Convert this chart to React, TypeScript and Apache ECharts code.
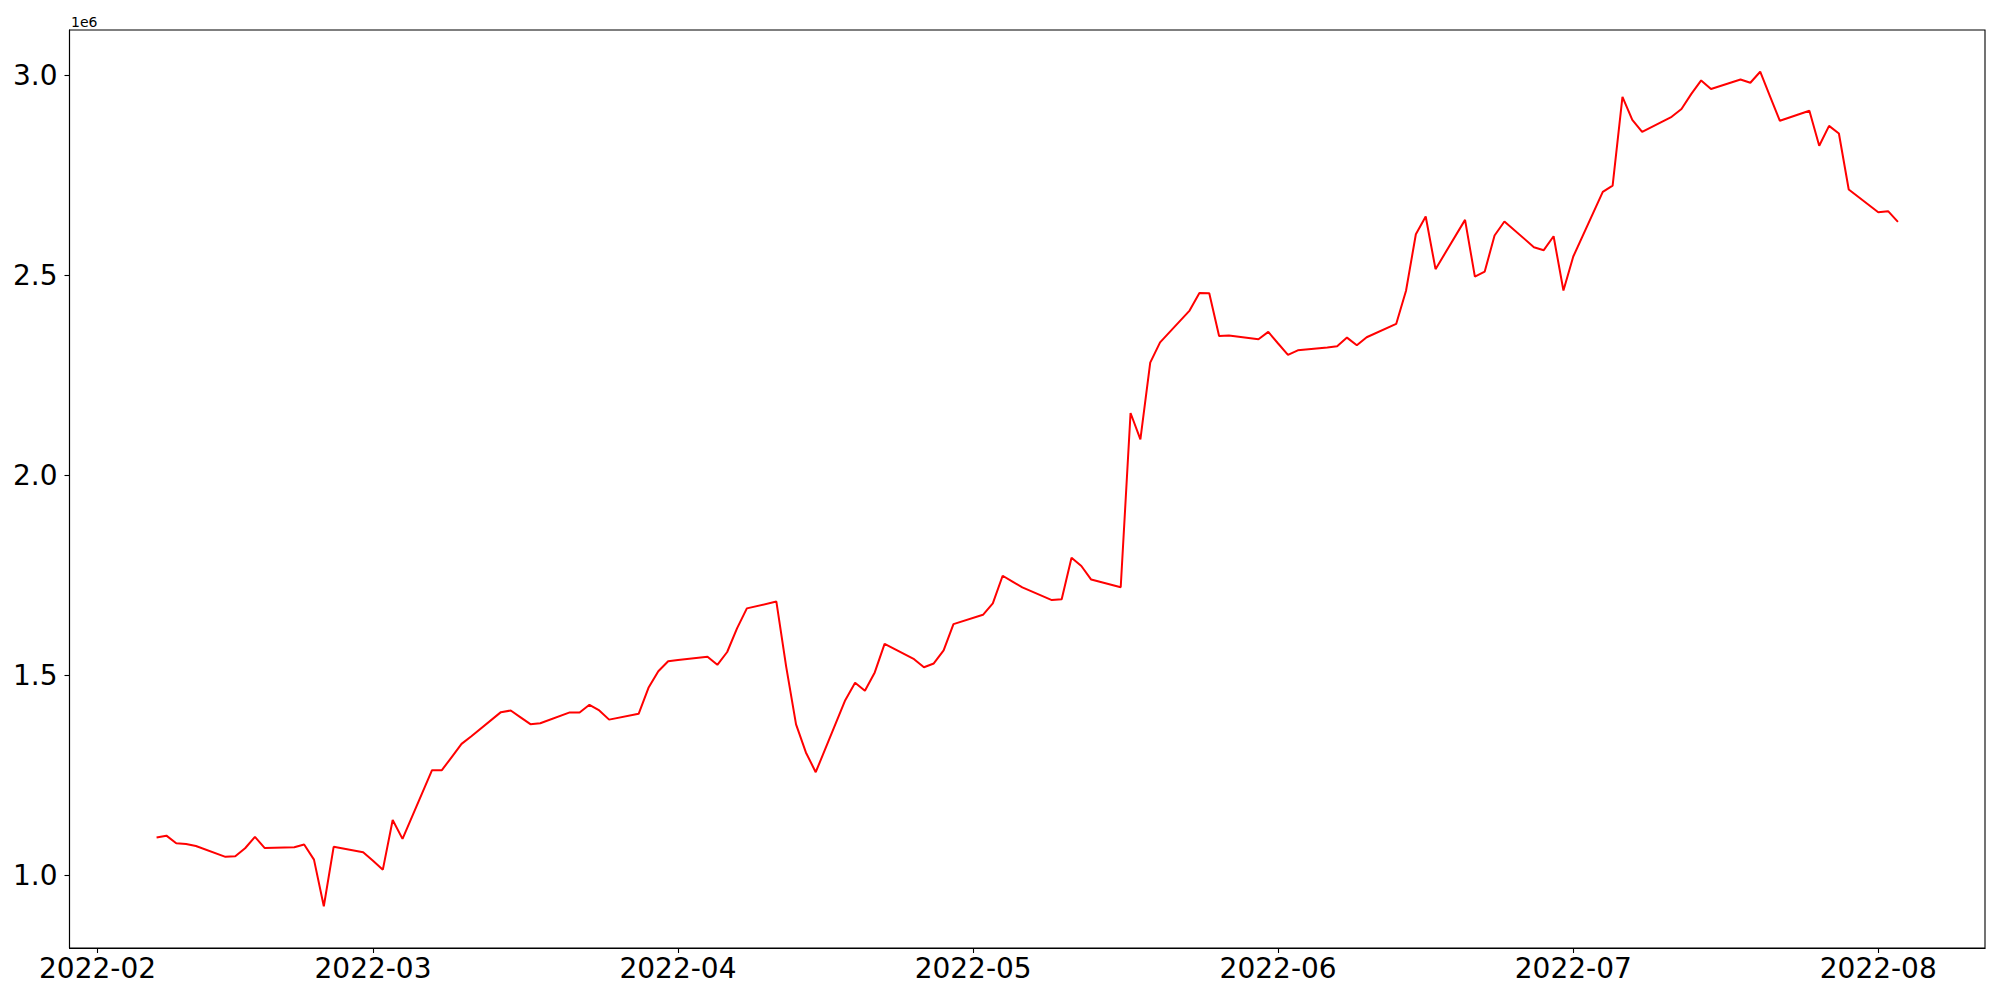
import React, { useEffect, useRef } from 'react';
import * as echarts from 'echarts';

const dates = [
  '2022-02-07', '2022-02-08', '2022-02-09', '2022-02-10', '2022-02-11',
  '2022-02-14', '2022-02-15', '2022-02-16', '2022-02-17', '2022-02-18',
  '2022-02-21', '2022-02-22', '2022-02-23', '2022-02-24', '2022-02-25',
  '2022-02-28', '2022-03-01', '2022-03-02', '2022-03-03', '2022-03-04',
  '2022-03-07', '2022-03-08', '2022-03-09', '2022-03-10', '2022-03-11',
  '2022-03-14', '2022-03-15', '2022-03-16', '2022-03-17', '2022-03-18',
  '2022-03-21', '2022-03-22', '2022-03-23', '2022-03-24', '2022-03-25',
  '2022-03-28', '2022-03-29', '2022-03-30', '2022-03-31', '2022-04-01',
  '2022-04-04', '2022-04-05', '2022-04-06', '2022-04-07', '2022-04-08',
  '2022-04-11', '2022-04-12', '2022-04-13', '2022-04-14', '2022-04-15',
  '2022-04-18', '2022-04-19', '2022-04-20', '2022-04-21', '2022-04-22',
  '2022-04-25', '2022-04-26', '2022-04-27', '2022-04-28', '2022-04-29',
  '2022-05-02', '2022-05-03', '2022-05-04', '2022-05-05', '2022-05-06',
  '2022-05-09', '2022-05-10', '2022-05-11', '2022-05-12', '2022-05-13',
  '2022-05-16', '2022-05-17', '2022-05-18', '2022-05-19', '2022-05-20',
  '2022-05-23', '2022-05-24', '2022-05-25', '2022-05-26', '2022-05-27',
  '2022-05-30', '2022-05-31', '2022-06-01', '2022-06-02', '2022-06-03',
  '2022-06-06', '2022-06-07', '2022-06-08', '2022-06-09', '2022-06-10',
  '2022-06-13', '2022-06-14', '2022-06-15', '2022-06-16', '2022-06-17',
  '2022-06-20', '2022-06-21', '2022-06-22', '2022-06-23', '2022-06-24',
  '2022-06-27', '2022-06-28', '2022-06-29', '2022-06-30', '2022-07-01',
  '2022-07-04', '2022-07-05', '2022-07-06', '2022-07-07', '2022-07-08',
  '2022-07-11', '2022-07-12', '2022-07-13', '2022-07-14', '2022-07-15',
  '2022-07-18', '2022-07-19', '2022-07-20', '2022-07-21', '2022-07-22',
  '2022-07-25', '2022-07-26', '2022-07-27', '2022-07-28', '2022-07-29',
  '2022-08-01', '2022-08-02', '2022-08-03',
];

const values = [
  1094300, 1099000, 1080000, 1078000, 1073000,
  1046000, 1047500, 1067500, 1096000, 1068000,
  1070000, 1076700, 1039000, 922500, 1071000,
  1057500, 1036000, 1014000, 1138000, 1091000,
  1262600, 1262600, 1295500, 1328400, 1347600,
  1407700, 1411800, 1394700, 1377600, 1380000,
  1407000, 1407000, 1426000, 1412000, 1389000,
  1403500, 1468500, 1510000, 1535000, 1538000,
  1546000, 1526000, 1558000, 1617000, 1667000,
  1684000, 1521000, 1377000, 1307000, 1257600,
  1437700, 1481000, 1461000, 1507000, 1578500,
  1540000, 1520000, 1529400, 1562000, 1627700,
  1651000, 1679500, 1748600, 1734000, 1719500,
  1687700, 1690000, 1793600, 1773000, 1739000,
  1720000, 2155400, 2089600, 2281300, 2332000,
  2411300, 2455500, 2454800, 2348000, 2348800,
  2339700, 2358000, 2329000, 2300500, 2312000,
  2319000, 2322200, 2343800, 2324600, 2344700,
  2378000, 2461000, 2602000, 2646500, 2514800,
  2638000, 2496300, 2508800, 2599000, 2634000,
  2569800, 2562300, 2597000, 2461400, 2546400,
  2708000, 2723600, 2945700, 2888000, 2858000,
  2895700, 2915000, 2953000, 2986500, 2965000,
  2989000, 2980700, 3008300, 2947000, 2885700,
  2910700, 2823200, 2873000, 2854000, 2714000,
  2657000, 2659800, 2633000,
];

const xTickDates = ['2022-02-01', '2022-03-01', '2022-04-01', '2022-05-01', '2022-06-01', '2022-07-01', '2022-08-01'];
const yTickValues = [1000000, 1500000, 2000000, 2500000, 3000000];
const offsetText = '1e6';

const toTs = (s: string) => {
  const [y, m, d] = s.split('-').map(Number);
  return Date.UTC(y, m - 1, d);
};

export default function App() {
  const ref = useRef<HTMLDivElement>(null);

  useEffect(() => {
    if (!ref.current) return;
    const chart = echarts.init(ref.current, null, { renderer: 'svg' });

    const xs = dates.map(toTs);
    const xMinD = Math.min(...xs);
    const xMaxD = Math.max(...xs);
    const xPad = (xMaxD - xMinD) * 0.05;
    const yMinD = Math.min(...values);
    const yMaxD = Math.max(...values);
    const yPad = (yMaxD - yMinD) * 0.05;
    const xTicks = xTickDates.map(toTs);

    const font = 'DejaVu Sans';

    chart.setOption({
      animation: false,
      backgroundColor: '#ffffff',
      grid: {
        left: 69.5,
        right: 15,
        top: 30,
        bottom: 52,
        show: true,
        borderColor: '#000000',
        borderWidth: 1.1,
        backgroundColor: 'transparent',
        outerBoundsMode: 'none',
        containLabel: false,
      },
      xAxis: {
        type: 'value',
        min: xMinD - xPad,
        max: xMaxD + xPad,
        scale: true,
        splitLine: { show: false },
        axisLine: { show: true, lineStyle: { color: '#000', width: 1.1 } },
        axisTick: {
          show: true,
          customValues: xTicks,
          length: 5,
          inside: false,
          lineStyle: { color: '#000', width: 1.1 },
        },
        axisLabel: {
          show: true,
          customValues: xTicks,
          formatter: (v: number) => {
            const d = new Date(v);
            const mm = String(d.getUTCMonth() + 1).padStart(2, '0');
            return `${d.getUTCFullYear()}-${mm}`;
          },
          fontSize: 28,
          fontFamily: font,
          color: '#000',
          margin: 6,
        },
      },
      yAxis: {
        type: 'value',
        min: yMinD - yPad,
        max: yMaxD + yPad,
        scale: true,
        splitLine: { show: false },
        axisLine: { show: true, lineStyle: { color: '#000', width: 1.1 } },
        axisTick: {
          show: true,
          customValues: yTickValues,
          length: 5,
          inside: false,
          lineStyle: { color: '#000', width: 1.1 },
        },
        axisLabel: {
          show: true,
          customValues: yTickValues,
          formatter: (v: number) => (v / 1e6).toFixed(1),
          fontSize: 28,
          fontFamily: font,
          color: '#000',
          margin: 12,
        },
      },
      graphic: [
        {
          type: 'text',
          x: 71,
          y: 21.5,
          style: {
            text: offsetText,
            fontSize: 14,
            fontFamily: font,
            fill: '#000',
            textVerticalAlign: 'middle',
            textAlign: 'left',
          },
        },
      ],
      series: [
        {
          type: 'line',
          data: xs.map((x, i) => [x, values[i]]),
          showSymbol: false,
          symbol: 'none',
          lineStyle: { color: '#ff0000', width: 2 },
          itemStyle: { color: '#ff0000' },
          emphasis: { disabled: true },
        },
      ],
    });

    return () => {
      chart.dispose();
    };
  }, []);

  return (
    <div
      ref={ref}
      style={{ position: 'fixed', left: 0, top: 0, width: 2000, height: 1000, background: '#fff' }}
    />
  );
}
